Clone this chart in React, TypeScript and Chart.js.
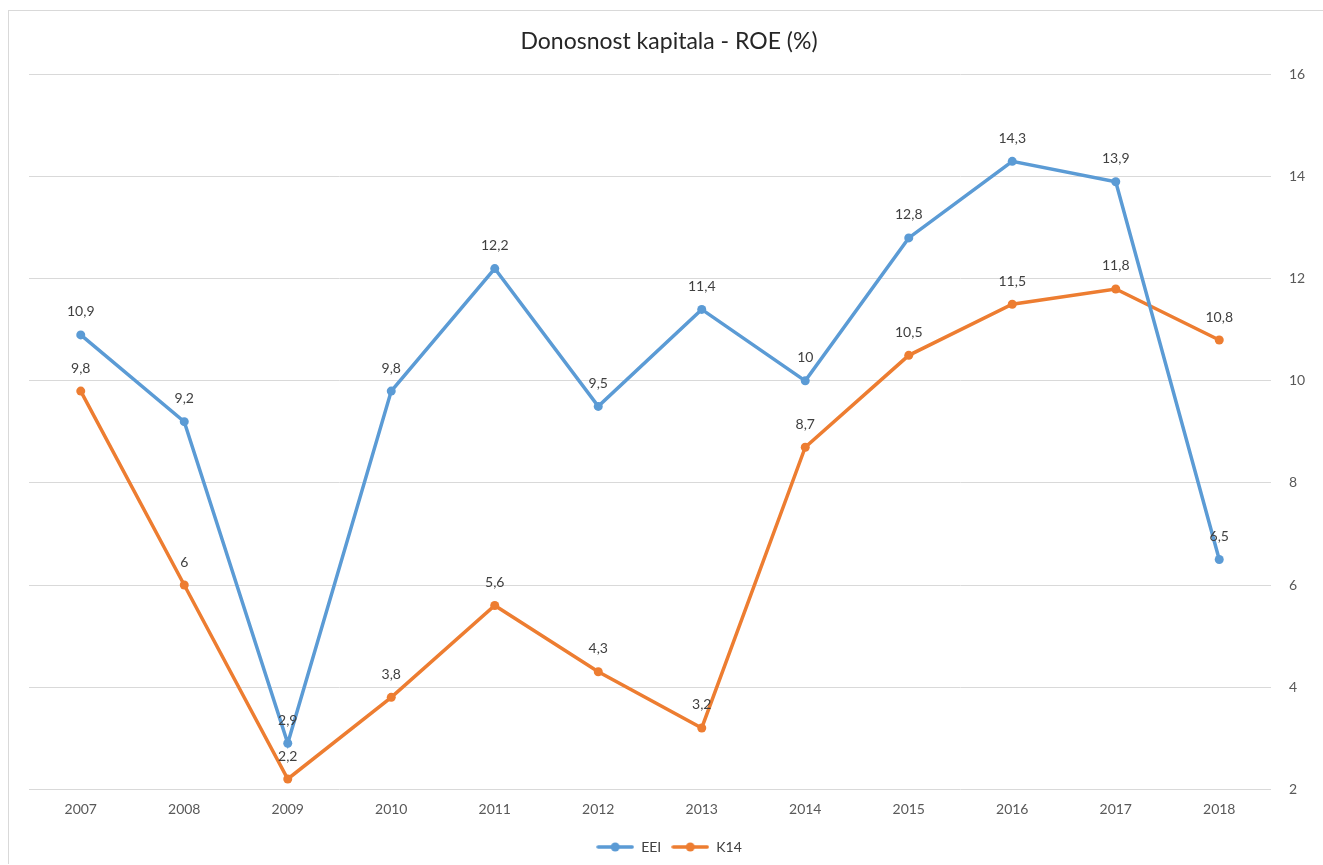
import React, { useEffect, useRef } from "react";
import { Chart, registerables } from "chart.js";

Chart.register(...registerables);

const categories = ["2007", "2008", "2009", "2010", "2011", "2012", "2013", "2014", "2015", "2016", "2017", "2018"];
const eeiValues = [10.9, 9.2, 2.9, 9.8, 12.2, 9.5, 11.4, 10, 12.8, 14.3, 13.9, 6.5];
const k14Values = [9.8, 6, 2.2, 3.8, 5.6, 4.3, 3.2, 8.7, 10.5, 11.5, 11.8, 10.8];
const seriesNames = ["EEI", "K14"];
const titleText = "Donosnost kapitala - ROE (%)";

const BLUE = "#5B9BD5";
const ORANGE = "#ED7D31";
const FONT = "Lato, 'Open Sans', sans-serif";

function legendMarker(color: string): HTMLCanvasElement {
  const c = document.createElement("canvas");
  c.width = 38;
  c.height = 10;
  const ctx = c.getContext("2d")!;
  ctx.strokeStyle = color;
  ctx.lineWidth = 3.5;
  ctx.lineCap = "round";
  ctx.beginPath();
  ctx.moveTo(2, 5);
  ctx.lineTo(36, 5);
  ctx.stroke();
  ctx.fillStyle = color;
  ctx.beginPath();
  ctx.arc(19, 5, 4.5, 0, Math.PI * 2);
  ctx.fill();
  return c;
}

const dataLabels = {
  id: "dataLabels",
  afterDatasetsDraw(chart: any) {
    const ctx = chart.ctx;
    ctx.save();
    ctx.font = `14px ${FONT}`;
    ctx.fillStyle = "#404040";
    ctx.textAlign = "center";
    ctx.textBaseline = "middle";
    chart.data.datasets.forEach((ds: any, i: number) => {
      const meta = chart.getDatasetMeta(i);
      meta.data.forEach((pt: any, j: number) => {
        const v = ds.data[j];
        const label = String(v).replace(".", ",");
        ctx.fillText(label, pt.x, pt.y - 23);
      });
    });
    ctx.restore();
  },
};

export default function App() {
  const ref = useRef<HTMLCanvasElement | null>(null);
  useEffect(() => {
    if (!ref.current) return;
    const markers = [legendMarker(BLUE), legendMarker(ORANGE)];
    const chart = new Chart(ref.current, {
      type: "line",
      data: {
        labels: categories,
        datasets: [
          {
            label: seriesNames[0],
            data: eeiValues,
            borderColor: BLUE,
            backgroundColor: BLUE,
            borderWidth: 3.5,
            pointRadius: 4.5,
            pointBorderWidth: 0,
            tension: 0,
          },
          {
            label: seriesNames[1],
            data: k14Values,
            borderColor: ORANGE,
            backgroundColor: ORANGE,
            borderWidth: 3.5,
            pointRadius: 4.5,
            pointBorderWidth: 0,
            tension: 0,
          },
        ],
      },
      options: {
        animation: false,
        responsive: false,
        layout: { padding: { left: 20, right: 23, top: 0, bottom: 0 } },
        elements: { point: { pointStyle: "circle" } },
        plugins: {
          title: {
            display: true,
            text: titleText,
            color: "#262626",
            font: { family: FONT, size: 23, weight: "normal" },
            padding: { top: 17, bottom: 19 },
          },
          legend: {
            position: "bottom",
            labels: {
              color: "#404040",
              font: { family: FONT, size: 14 },
              usePointStyle: true,
              pointStyleWidth: 38,
              padding: 10,
              generateLabels: (chart: any) =>
                chart.data.datasets.map((ds: any, i: number) => ({
                  text: ds.label,
                  fillStyle: ds.borderColor,
                  strokeStyle: ds.borderColor,
                  lineWidth: 0,
                  pointStyle: markers[i],
                  hidden: false,
                  datasetIndex: i,
                  fontColor: "#404040",
                })),
            },
          },
          tooltip: { enabled: false },
        },
        scales: {
          x: {
            offset: true,
            grid: { display: false, drawTicks: false },
            border: { display: false },
            ticks: { color: "#595959", font: { family: FONT, size: 14 }, padding: 12, maxRotation: 0 },
          },
          y: {
            position: "right",
            min: 2,
            max: 16,
            afterFit: (scale: any) => {
              scale.width = 38;
            },
            grid: { color: "#d9d9d9", lineWidth: 1, drawTicks: false },
            border: { display: false },
            ticks: { stepSize: 2, color: "#595959", font: { family: FONT, size: 14 }, padding: 18 },
          },
        },
      },
      plugins: [dataLabels],
    } as any);
    return () => chart.destroy();
  }, []);

  return (
    <div
      style={{
        position: "absolute",
        left: 8,
        top: 10,
        width: 1314,
        height: 853,
        borderLeft: "1px solid #d9d9d9",
        borderTop: "1px solid #d9d9d9",
        background: "#fff",
        overflow: "hidden",
      }}
    >
      <canvas ref={ref} width={1323} height={853} style={{ display: "block" }} />
    </div>
  );
}
